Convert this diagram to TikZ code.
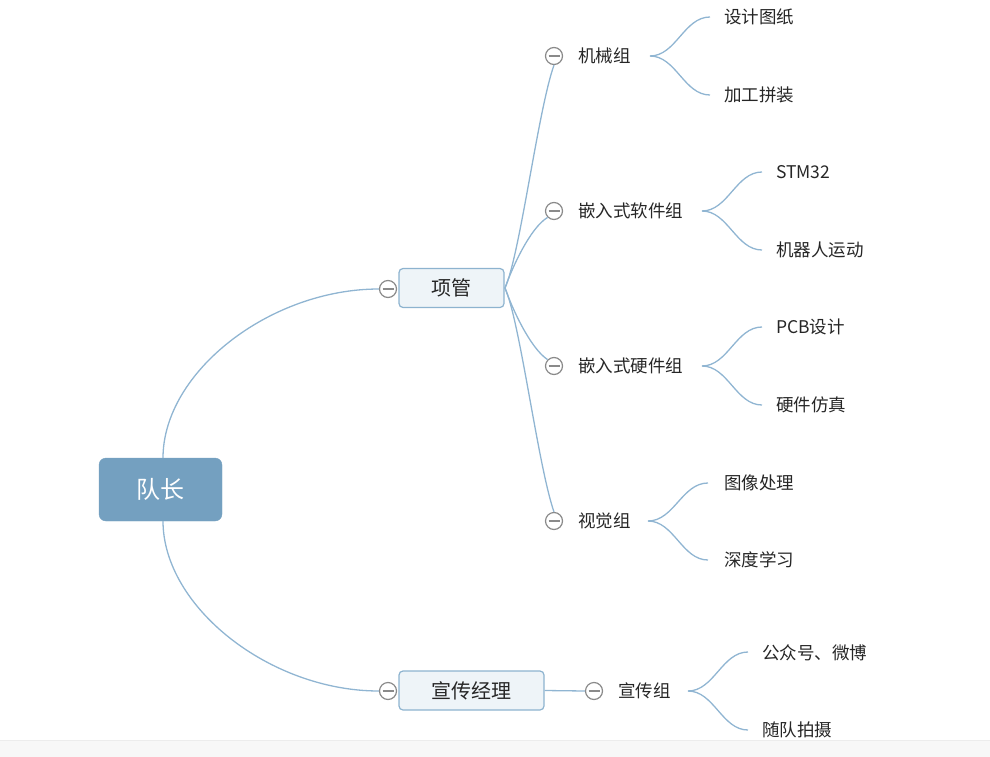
\documentclass[tikz,border=0pt]{standalone}
\usepackage{fontspec}
\newfontfamily\cjk{Noto Sans CJK SC}
\definecolor{rootfill}{HTML}{74A0C0}
\definecolor{boxfill}{HTML}{EEF4F8}
\definecolor{boxdraw}{HTML}{8DB3CF}
\definecolor{conn}{HTML}{90B5D2}
\definecolor{tgray}{HTML}{8A8A8A}
\definecolor{txt}{HTML}{262626}
\definecolor{band}{HTML}{F7F7F7}
\definecolor{bandline}{HTML}{ECECEC}
\begin{document}
\begin{tikzpicture}[x=1pt,y=-1pt,
  rootbox/.style={draw=rootfill, fill=rootfill, rounded corners=7pt, text=white,
    font=\cjk\fontsize{24}{24}\selectfont, minimum width=123pt, minimum height=63pt, inner sep=0pt},
  midbox/.style={draw=boxdraw, line width=1.2pt, fill=boxfill, rounded corners=4pt, text=txt,
    font=\cjk\fontsize{20}{20}\selectfont, minimum height=39pt, inner sep=0pt},
  lbl/.style={anchor=west, inner sep=0pt, text=txt, font=\cjk\fontsize{17.5}{17.5}\selectfont,
    text height=12.8pt, text depth=0pt},
  tog/.style={circle, draw=tgray, line width=1.2pt, fill=white, minimum size=17pt, inner sep=0pt,
    path picture={\draw[tgray, line width=1.4pt]
      ([xshift=-5.5pt]path picture bounding box.center) -- ([xshift=5.5pt]path picture bounding box.center);}},
  link/.style={draw=conn, line width=1.3pt},
]
\useasboundingbox (0,0) rectangle (990,757);

% main nodes
\node[rootbox] (root) at (160.5,489.5) {队长};
\node[midbox, minimum width=105pt] (pm) at (451.5,288) {项管};
\node[midbox, minimum width=145pt] (pr) at (471.5,690.5) {宣传经理};

% toggles
\node[tog] (tpm) at (388,289) {};
\node[tog] (tpr) at (388,691) {};
\node[tog] (t1) at (554,56) {};
\node[tog] (t2) at (554,211) {};
\node[tog] (t3) at (554,366) {};
\node[tog] (t4) at (554,521) {};
\node[tog] (t5) at (594,691) {};

% branch labels
\node[lbl] (g1) at (578,56) {机械组};
\node[lbl] (g2) at (578,211) {嵌入式软件组};
\node[lbl] (g3) at (578,366) {嵌入式硬件组};
\node[lbl] (g4) at (578,521) {视觉组};
\node[lbl] (g5) at (618,691) {宣传组};

% leaves
\node[lbl] (l11) at (724,17) {设计图纸};
\node[lbl] (l12) at (724,95) {加工拼装};
\node[lbl] (l21) at (776,172) {STM32};
\node[lbl] (l22) at (776,250) {机器人运动};
\node[lbl] (l31) at (776,327) {PCB设计};
\node[lbl] (l32) at (776,405) {硬件仿真};
\node[lbl] (l41) at (724,483) {图像处理};
\node[lbl] (l42) at (724,560) {深度学习};
\node[lbl] (l51) at (762,653) {公众号、微博};
\node[lbl] (l52) at (762,730) {随队拍摄};

% connector anchor points
\coordinate (rt) at (163,458);
\coordinate (rb) at (163,521);
\coordinate (pmo) at (505,288);
\coordinate (s1) at (650,56);  \coordinate (e11) at (710,17);  \coordinate (e12) at (710,95);
\coordinate (s2) at (702,211); \coordinate (e21) at (762,172); \coordinate (e22) at (762,250);
\coordinate (s3) at (702,366); \coordinate (e31) at (762,327); \coordinate (e32) at (762,405);
\coordinate (s4) at (648,521); \coordinate (e41) at (708,483); \coordinate (e42) at (708,560);
\coordinate (s5) at (688,691); \coordinate (e51) at (748,652); \coordinate (e52) at (748,730);

% root connectors
\draw[link] (rt) .. controls (163,372) and (270,289) .. (tpm.west);
\draw[link] (rb) .. controls (163,607) and (270,691) .. (tpr.west);

% fan from 项管
\draw[link] (pmo) .. controls (520,255) and (538,110) .. (t1.south);
\draw[link] (pmo) .. controls (512,268) and (530,228) .. (t2.south west);
\draw[link] (pmo) .. controls (512,308) and (530,348) .. (t3.north west);
\draw[link] (pmo) .. controls (520,321) and (538,466) .. (t4.north);

% 宣传经理 -> 宣传组
\draw[link] (pr.east) -- (t5.west);

% brackets
\foreach \s/\a/\b in {s1/e11/e12, s2/e21/e22, s3/e31/e32, s4/e41/e42, s5/e51/e52}{
  \draw[link] (\s) .. controls +(26,0) and +(-26,0) .. (\a);
  \draw[link] (\s) .. controls +(26,0) and +(-26,0) .. (\b);
}

% bottom band
\fill[band] (0,740) rectangle (990,757);
\draw[bandline, line width=1pt] (0,740) -- (990,740);
\end{tikzpicture}
\end{document}
